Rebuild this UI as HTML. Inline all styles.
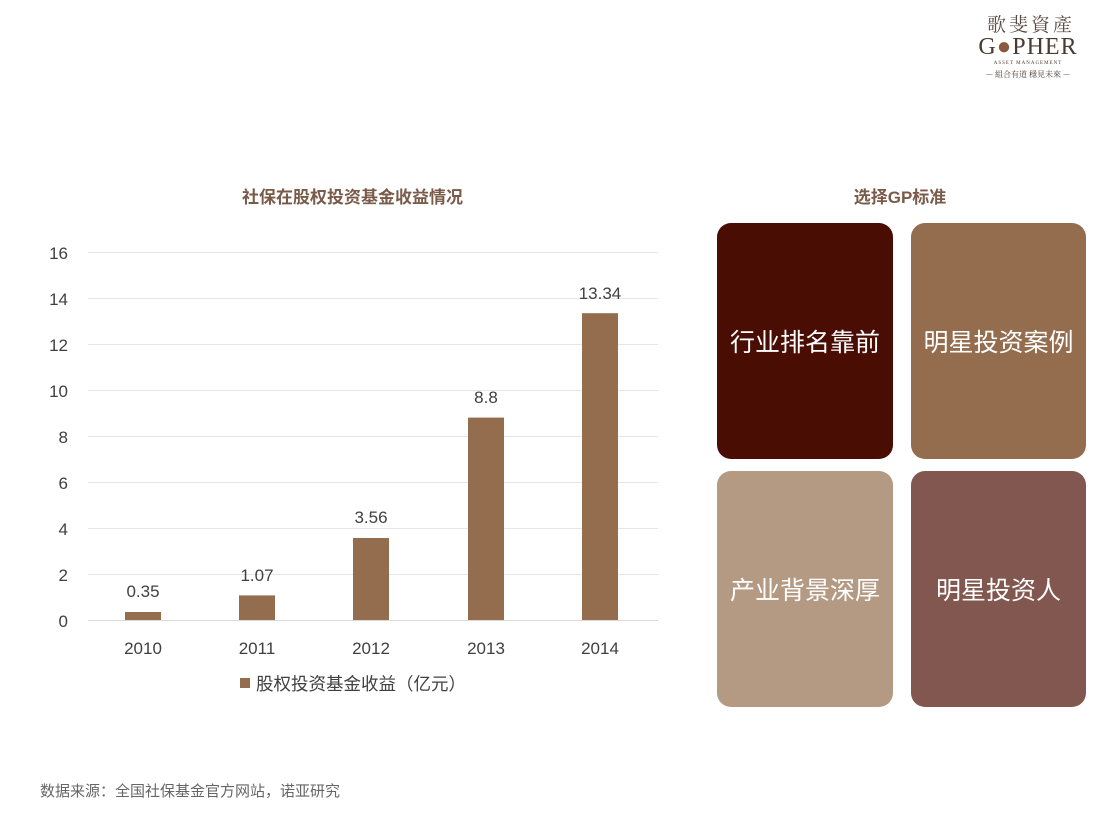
<!DOCTYPE html><html><head><meta charset="utf-8"><style>
body{margin:0;width:1108px;height:832px;background:#fff;position:relative;font-family:"Liberation Sans","Noto Sans CJK SC",sans-serif;overflow:hidden}
.a{position:absolute}
.box{position:absolute;width:176px;height:236px;border-radius:14px;color:#fff;font-size:25px;display:flex;align-items:center;justify-content:center}
</style></head><body>
<div class="a" style="left:976px;top:10px;width:110px;text-align:center;font-family:'Noto Serif CJK SC',serif;color:#5a4a42;font-size:19px;letter-spacing:3px">歌斐資產</div>
<div class="a" style="left:970px;top:34px;width:116px;text-align:center;font-family:'Liberation Serif',serif;color:#4a3a32;font-size:24px;letter-spacing:1px">G<span style="color:#8a5a40">●</span>PHER</div>
<div class="a" style="left:970px;top:61px;width:116px;text-align:center;font-family:'Liberation Serif',serif;color:#4a3a32;font-size:5px;letter-spacing:1px">ASSET MANAGEMENT</div>
<div class="a" style="left:970px;top:69px;width:116px;text-align:center;font-family:'Noto Serif CJK SC',serif;color:#4a3a32;font-size:8px">— 組合有道 穩見未來 —</div>
<div class="a" style="left:180px;top:183px;width:345px;text-align:center;color:#7a5a48;font-weight:bold;font-size:17px">社保在股权投资基金收益情况</div>
<div class="a" style="left:800px;top:183px;width:200px;text-align:center;color:#7a5a48;font-weight:bold;font-size:17px">选择GP标准</div>
<svg class="a" style="left:0;top:0" width="700" height="720">
<g stroke="#e6e6e6" stroke-width="1">
<line x1="88" x2="658" y1="252.5" y2="252.5"/><line x1="88" x2="658" y1="298.5" y2="298.5"/><line x1="88" x2="658" y1="344.5" y2="344.5"/><line x1="88" x2="658" y1="390.5" y2="390.5"/><line x1="88" x2="658" y1="436.5" y2="436.5"/><line x1="88" x2="658" y1="482.5" y2="482.5"/><line x1="88" x2="658" y1="528.5" y2="528.5"/><line x1="88" x2="658" y1="574.5" y2="574.5"/></g>
<line x1="88" x2="658" y1="620.5" y2="620.5" stroke="#d9d9d9"/>
<g font-family="Liberation Sans" font-size="17" fill="#404040" text-anchor="end">
<text x="68" y="259">16</text><text x="68" y="305">14</text><text x="68" y="351">12</text><text x="68" y="397">10</text><text x="68" y="443">8</text><text x="68" y="489">6</text><text x="68" y="535">4</text><text x="68" y="581">2</text><text x="68" y="627">0</text></g>
<g fill="#936d4d"><rect x="125" y="612" width="36" height="8"/><rect x="239" y="595.4" width="36" height="24.6"/><rect x="353" y="538" width="36" height="82"/><rect x="468" y="417.6" width="36" height="202.4"/><rect x="582" y="313.2" width="36" height="306.8"/></g>
<g font-family="Liberation Sans" font-size="17" fill="#404040" text-anchor="middle">
<text x="143" y="597">0.35</text><text x="257" y="581">1.07</text><text x="371" y="523">3.56</text><text x="486" y="403">8.8</text><text x="600" y="299">13.34</text>
<text x="143" y="654">2010</text><text x="257" y="654">2011</text><text x="371" y="654">2012</text><text x="486" y="654">2013</text><text x="600" y="654">2014</text></g>
<rect x="240" y="678" width="10" height="10" fill="#936d4d"/>
<text x="256" y="690" font-family="Liberation Sans,Noto Sans CJK SC,sans-serif" font-size="17.5" fill="#404040">股权投资基金收益（亿元）</text>
</svg>
<div class="box" style="left:717px;top:223px;background:#4a0d04">行业排名靠前</div>
<div class="box" style="left:911px;top:223px;background:#936d4d;width:175px">明星投资案例</div>
<div class="box" style="left:717px;top:471px;background:#b49a83">产业背景深厚</div>
<div class="box" style="left:911px;top:471px;background:#82574f;width:175px">明星投资人</div>
<div class="a" style="left:40px;top:780px;font-size:15px;color:#666">数据来源：全国社保基金官方网站，诺亚研究</div>
</body></html>
